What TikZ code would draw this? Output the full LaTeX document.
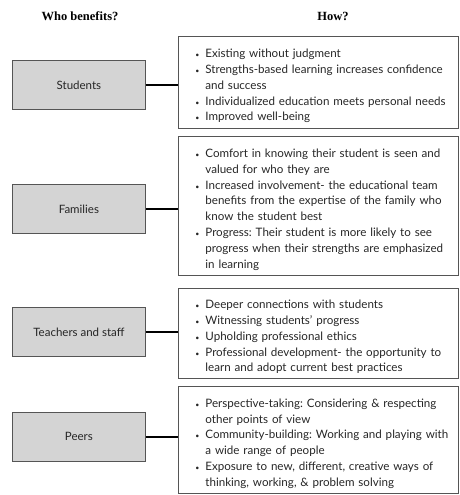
\documentclass[tikz,border=0pt]{standalone}
\usepackage{fontspec}
\setmainfont{Lato}
\newfontfamily\headfont{Liberation Serif}
\usepackage{enumitem}
\setlist[itemize]{leftmargin=22pt,labelsep=6pt,itemsep=0pt,topsep=0pt,parsep=0pt,partopsep=0pt,label={\scriptsize\textbullet}}
\definecolor{boxgray}{HTML}{D4D4D4}
\definecolor{edgegray}{HTML}{555555}
\frenchspacing
\begin{document}
\begin{tikzpicture}[x=1pt,y=-1pt,
  header/.style={font=\headfont\bfseries\fontsize{12.5}{14}\selectfont},
  whobox/.style={draw=edgegray,fill=boxgray,line width=0.8pt,minimum width=133pt,minimum height=49pt,
    anchor=north west,inner sep=0pt,font=\fontsize{11.5}{14}\selectfont,text=black!85},
  howbox/.style={draw=edgegray,line width=0.8pt,anchor=north west,inner xsep=5pt,inner ysep=0pt,
    text width=270pt,align=left,font=\fontsize{11.6}{15.8}\selectfont,text=black!85},
  link/.style={line width=2.4pt,black}]
  \useasboundingbox (0,0) rectangle (459,495);

  \node[header] (h1) at (80,16) {Who benefits?};
  \node[header] (h2) at (333,16) {How?};

  % Students
  \node[whobox] (s) at (12,60) {Students};
  \node[howbox,minimum height=92pt] (sh) at (178,36) {%
    \begin{itemize}
    \item Existing without judgment
    \item Strengths-based learning increases confidence\newline and success
    \item Individualized education meets personal needs
    \item Improved well-being
    \end{itemize}};
  \draw[link] (s.east) -- (s.east -| sh.west);

  % Families
  \node[whobox] (f) at (12,184) {Families};
  \node[howbox,minimum height=139pt] (fh) at (178,136) {%
    \begin{itemize}
    \item Comfort in knowing their student is seen and\newline valued for who they are
    \item Increased involvement- the educational team\newline benefits from the expertise of the family who\newline know the student best
    \item Progress: Their student is more likely to see\newline progress when their strengths are emphasized\newline in learning
    \end{itemize}};
  \draw[link] (f.east) -- (f.east -| fh.west);

  % Teachers and staff
  \node[whobox] (t) at (12,307) {Teachers and staff};
  \node[howbox,minimum height=90pt] (th) at (178,288) {%
    \begin{itemize}
    \item Deeper connections with students
    \item Witnessing students' progress
    \item Upholding professional ethics
    \item Professional development- the opportunity to\newline learn and adopt current best practices
    \end{itemize}};
  \draw[link] (t.east) -- (t.east -| th.west);

  % Peers
  \node[whobox] (p) at (12,412) {Peers};
  \node[howbox,minimum height=107pt] (ph) at (178,386) {%
    \begin{itemize}
    \item Perspective-taking: Considering \& respecting\newline other points of view
    \item Community-building: Working and playing with\newline a wide range of people
    \item Exposure to new, different, creative ways of\newline thinking, working, \& problem solving
    \end{itemize}};
  \draw[link] (p.east) -- (p.east -| ph.west);
\end{tikzpicture}
\end{document}
